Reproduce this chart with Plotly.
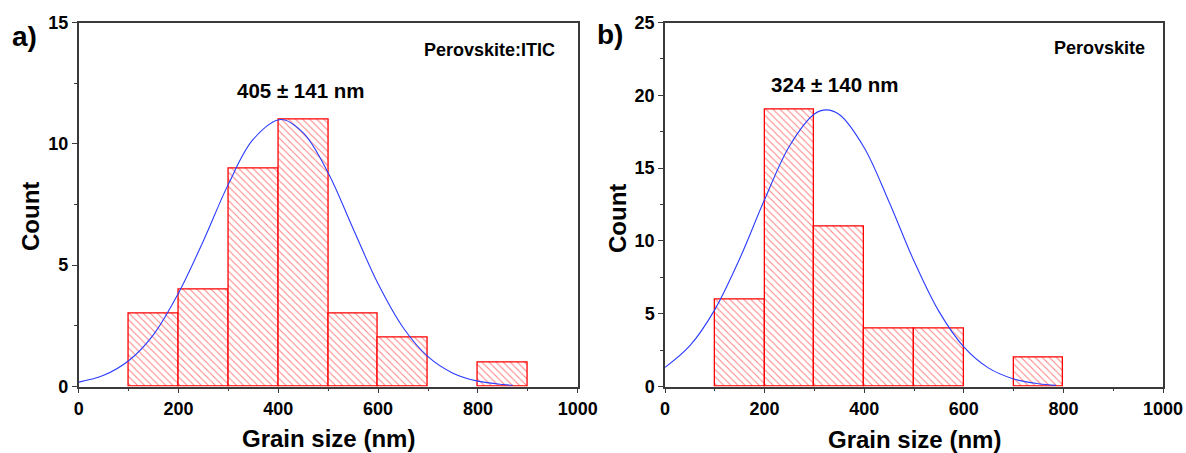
import plotly.graph_objects as go

W, H = 1186, 453

# ---- data ----
bin_centers = [150, 250, 350, 450, 550, 650, 750, 850]
counts_a = [3, 4, 9, 11, 3, 2, 0, 1]
counts_b = [6, 19, 11, 4, 4, 0, 2, 0]

fit_a_x = [0, 50, 100, 150, 200, 250, 300, 350, 405, 450, 500, 550, 600, 650, 700, 750, 800, 850, 870]
fit_a_y = [0.18, 0.46, 1.06, 2.14, 3.85, 6.01, 8.34, 10.19, 11.0, 10.45, 8.8, 6.5, 4.23, 2.43, 1.23, 0.55, 0.22, 0.08, 0.05]
fit_b_x = [0, 50, 100, 150, 200, 250, 300, 324, 350, 400, 450, 500, 550, 600, 650, 700, 750, 785]
fit_b_y = [1.31, 2.80, 5.28, 8.78, 12.84, 16.52, 18.72, 19.0, 18.68, 16.40, 12.67, 8.62, 5.16, 2.72, 1.26, 0.52, 0.19, 0.08]

x_ticks = [0, 200, 400, 600, 800, 1000]

def px(x):
    return x / W

def py(y):
    return 1 - y / H

def nonzero(xs, ys):
    pairs = [(a, b) for a, b in zip(xs, ys) if b > 0]
    return [p[0] for p in pairs], [p[1] for p in pairs]

fig = go.Figure()

bar_style = dict(
    width=100,
    marker=dict(
        color="white",
        line=dict(color="#ff0000", width=1.3),
        pattern=dict(shape="\\", fgcolor="#ff0000", bgcolor="white", size=5, solidity=0.2),
    ),
    showlegend=False,
)

xa, ya = nonzero(bin_centers, counts_a)
xb, yb = nonzero(bin_centers, counts_b)
fig.add_trace(go.Bar(x=xa, y=ya, xaxis="x", yaxis="y", **bar_style))
fig.add_trace(go.Bar(x=xb, y=yb, xaxis="x2", yaxis="y2", **bar_style))

line_style = dict(mode="lines", line=dict(color="#2a3cff", width=1.1, shape="spline"), showlegend=False)
fig.add_trace(go.Scatter(x=fit_a_x, y=fit_a_y, xaxis="x", yaxis="y", **line_style))
fig.add_trace(go.Scatter(x=fit_b_x, y=fit_b_y, xaxis="x2", yaxis="y2", **line_style))

tickfont = dict(family="Liberation Sans, Arial, sans-serif", size=18, color="black", weight="bold")
axis_common = dict(
    showgrid=False, zeroline=False, showline=True, linecolor="#3a3a3a", linewidth=1.5,
    mirror=True, ticks="outside", ticklen=5, tickwidth=1.3, tickcolor="#3a3a3a",
    tickfont=tickfont, automargin=False,
)

ydom = [py(386.5), py(22.5)]
fig.update_layout(
    width=W, height=H,
    margin=dict(l=0, r=0, t=0, b=0, autoexpand=False),
    paper_bgcolor="white", plot_bgcolor="white",
    bargap=0,
    xaxis=dict(domain=[px(78.7), px(577.7)], range=[0, 1000], tickvals=x_ticks, anchor="y",
               minor=dict(ticks="outside", ticklen=3, dtick=100, tickcolor="#3a3a3a"), **axis_common),
    yaxis=dict(domain=ydom, range=[0, 15], dtick=5, anchor="x",
               minor=dict(ticks="outside", ticklen=3, dtick=2.5, tickcolor="#3a3a3a"), **axis_common),
    xaxis2=dict(domain=[px(665), px(1163)], range=[0, 1000], tickvals=x_ticks, anchor="y2",
                minor=dict(ticks="outside", ticklen=3, dtick=100, tickcolor="#3a3a3a"), **axis_common),
    yaxis2=dict(domain=ydom, range=[0, 25], dtick=5, anchor="x2",
                minor=dict(ticks="outside", ticklen=3, dtick=2.5, tickcolor="#3a3a3a"), **axis_common),
)

def ann(text, x, y, size, xanchor="center", angle=0):
    fig.add_annotation(
        text=text, x=px(x), y=py(y), xref="paper", yref="paper",
        xanchor=xanchor, yanchor="middle", showarrow=False, textangle=angle,
        font=dict(family="Liberation Sans, Arial, sans-serif", size=size, color="black", weight="bold"),
    )

ann("a)", 10, 37, 28, xanchor="left")
ann("b)", 595, 35, 28, xanchor="left")
ann("Perovskite:ITIC", 557, 50, 18, xanchor="right")
ann("Perovskite", 1147, 48, 18, xanchor="right")
ann("405 ± 141 nm", 301, 90, 20.5)
ann("324 ± 140 nm", 835, 85, 20.5)
ann("Count", 30, 217, 24, angle=-90)
ann("Count", 617, 219, 24, angle=-90)
ann("Grain size (nm)", 328, 438, 24)
ann("Grain size (nm)", 914, 439, 24)

fig.write_html(
    "out.html",
    config={"displayModeBar": False},
    post_script="document.body.style.margin='0';document.body.style.overflow='hidden';",
)
